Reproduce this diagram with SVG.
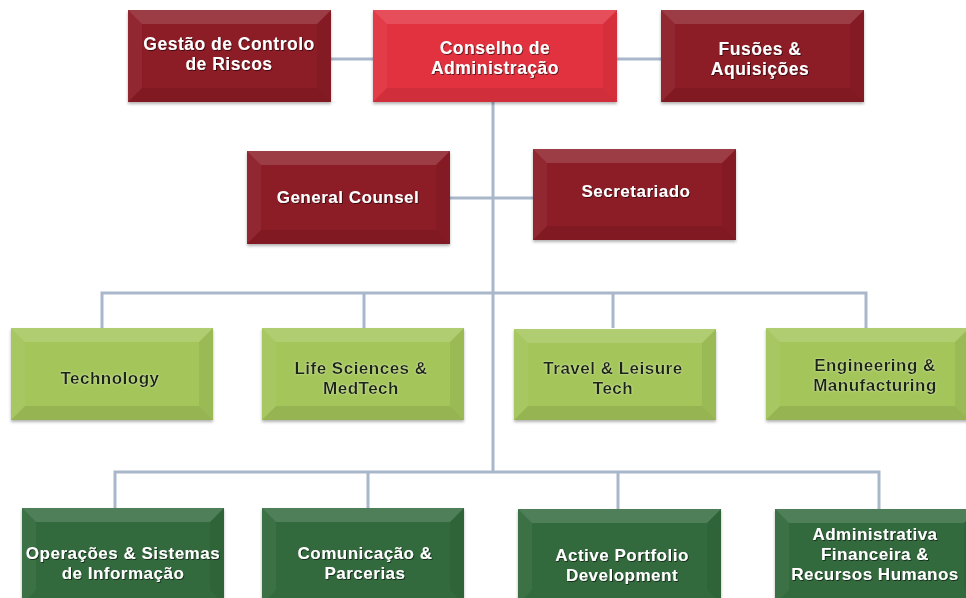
<svg xmlns="http://www.w3.org/2000/svg" width="966" height="598" viewBox="0 0 966 598">
<defs>
<filter id="sh" x="-10%" y="-10%" width="120%" height="130%">
<feDropShadow dx="0" dy="2" stdDeviation="1.8" flood-color="#000" flood-opacity="0.3"/>
</filter>
<filter id="ts" x="-10%" y="-30%" width="120%" height="160%">
<feDropShadow dx="0.8" dy="0.8" stdDeviation="0.6" flood-color="#000" flood-opacity="0.7"/>
</filter>
<filter id="tg" x="-10%" y="-30%" width="120%" height="160%">
<feDropShadow dx="0" dy="0" stdDeviation="0.8" flood-color="#eaf5c8" flood-opacity="0.8"/>
</filter>
</defs>
<style>
.dr{fill:#8c1d27}
.rr{fill:#e2323f}
.lg{fill:#a3c55a}
.dg{fill:#336a3c}
.box{filter:url(#sh)}
.bt{fill:#fff;fill-opacity:0.14}
.bl{fill:#fff;fill-opacity:0.05}
.br{fill:#000;fill-opacity:0.05}
.bb{fill:#000;fill-opacity:0.08}
text{font-family:"Liberation Sans",Arial,sans-serif;font-weight:bold;text-anchor:middle;font-size:17px;letter-spacing:0.5px}
.w{fill:#fff;filter:url(#ts)}
.k{fill:#1e2614;filter:url(#tg)}
.top{font-size:17.5px}
.con{fill:none;stroke:#a9b7ca;stroke-width:3}
</style>
<rect width="966" height="598" fill="#fff"/>
<g id="connectors" class="con">
<line x1="331" y1="59" x2="373" y2="59"/>
<line x1="617" y1="59" x2="661" y2="59"/>
<line x1="493" y1="102" x2="493" y2="472"/>
<line x1="450" y1="198" x2="533" y2="198"/>
<polyline points="102,328 102,293 866,293 866,328"/>
<line x1="364" y1="293" x2="364" y2="328"/>
<line x1="613" y1="293" x2="613" y2="328"/>
<polyline points="115,508 115,472 879,472 879,509"/>
<line x1="368" y1="472" x2="368" y2="508"/>
<line x1="618" y1="472" x2="618" y2="509"/>
</g>
<g id="n-gestao">
<rect class="dr box" x="128" y="10" width="203" height="92"/>
<polygon class="bt" points="128,10 331,10 317,24 142,24"/>
<polygon class="bl" points="128,10 142,24 142,88 128,102"/>
<polygon class="br" points="331,10 331,102 317,88 317,24"/>
<polygon class="bb" points="128,102 142,88 317,88 331,102"/>
<text class="w top" x="229" y="50">Gestão de Controlo</text>
<text class="w top" x="229" y="70">de Riscos</text>
</g>
<g id="n-conselho">
<rect class="rr box" x="373" y="10" width="244" height="92"/>
<polygon class="bt" points="373,10 617,10 603,24 387,24"/>
<polygon class="bl" points="373,10 387,24 387,88 373,102"/>
<polygon class="br" points="617,10 617,102 603,88 603,24"/>
<polygon class="bb" points="373,102 387,88 603,88 617,102"/>
<text class="w top" x="495" y="54">Conselho de</text>
<text class="w top" x="495" y="74">Administração</text>
</g>
<g id="n-fusoes">
<rect class="dr box" x="661" y="10" width="203" height="92"/>
<polygon class="bt" points="661,10 864,10 850,24 675,24"/>
<polygon class="bl" points="661,10 675,24 675,88 661,102"/>
<polygon class="br" points="864,10 864,102 850,88 850,24"/>
<polygon class="bb" points="661,102 675,88 850,88 864,102"/>
<text class="w top" x="760" y="55">Fusões &amp;</text>
<text class="w top" x="760" y="75">Aquisições</text>
</g>
<g id="n-counsel">
<rect class="dr box" x="247" y="151" width="203" height="93"/>
<polygon class="bt" points="247,151 450,151 436,165 261,165"/>
<polygon class="bl" points="247,151 261,165 261,230 247,244"/>
<polygon class="br" points="450,151 450,244 436,230 436,165"/>
<polygon class="bb" points="247,244 261,230 436,230 450,244"/>
<text class="w" x="348" y="203">General Counsel</text>
</g>
<g id="n-secretariado">
<rect class="dr box" x="533" y="149" width="203" height="91"/>
<polygon class="bt" points="533,149 736,149 722,163 547,163"/>
<polygon class="bl" points="533,149 547,163 547,226 533,240"/>
<polygon class="br" points="736,149 736,240 722,226 722,163"/>
<polygon class="bb" points="533,240 547,226 722,226 736,240"/>
<text class="w" x="636" y="197">Secretariado</text>
</g>
<g id="n-technology">
<rect class="lg box" x="11" y="328" width="202" height="92"/>
<polygon class="bt" points="11,328 213,328 199,342 25,342"/>
<polygon class="bl" points="11,328 25,342 25,406 11,420"/>
<polygon class="br" points="213,328 213,420 199,406 199,342"/>
<polygon class="bb" points="11,420 25,406 199,406 213,420"/>
<text class="k" x="110" y="384">Technology</text>
</g>
<g id="n-life">
<rect class="lg box" x="262" y="328" width="202" height="92"/>
<polygon class="bt" points="262,328 464,328 450,342 276,342"/>
<polygon class="bl" points="262,328 276,342 276,406 262,420"/>
<polygon class="br" points="464,328 464,420 450,406 450,342"/>
<polygon class="bb" points="262,420 276,406 450,406 464,420"/>
<text class="k" x="361" y="374">Life Sciences &amp;</text>
<text class="k" x="361" y="394">MedTech</text>
</g>
<g id="n-travel">
<rect class="lg box" x="514" y="329" width="202" height="91"/>
<polygon class="bt" points="514,329 716,329 702,343 528,343"/>
<polygon class="bl" points="514,329 528,343 528,406 514,420"/>
<polygon class="br" points="716,329 716,420 702,406 702,343"/>
<polygon class="bb" points="514,420 528,406 702,406 716,420"/>
<text class="k" x="613" y="374">Travel &amp; Leisure</text>
<text class="k" x="613" y="394">Tech</text>
</g>
<g id="n-engineering">
<rect class="lg box" x="766" y="328" width="203" height="92"/>
<polygon class="bt" points="766,328 969,328 955,342 780,342"/>
<polygon class="bl" points="766,328 780,342 780,406 766,420"/>
<polygon class="br" points="969,328 969,420 955,406 955,342"/>
<polygon class="bb" points="766,420 780,406 955,406 969,420"/>
<text class="k" x="875" y="371">Engineering &amp;</text>
<text class="k" x="875" y="391">Manufacturing</text>
</g>
<g id="n-operacoes">
<rect class="dg box" x="22" y="508" width="202" height="96"/>
<polygon class="bt" points="22,508 224,508 210,522 36,522"/>
<polygon class="bl" points="22,508 36,522 36,590 22,604"/>
<polygon class="br" points="224,508 224,604 210,590 210,522"/>
<text class="w" x="123" y="559">Operações &amp; Sistemas</text>
<text class="w" x="123" y="579">de Informação</text>
</g>
<g id="n-comunicacao">
<rect class="dg box" x="262" y="508" width="202" height="96"/>
<polygon class="bt" points="262,508 464,508 450,522 276,522"/>
<polygon class="bl" points="262,508 276,522 276,590 262,604"/>
<polygon class="br" points="464,508 464,604 450,590 450,522"/>
<text class="w" x="365" y="559">Comunicação &amp;</text>
<text class="w" x="365" y="579">Parcerias</text>
</g>
<g id="n-active">
<rect class="dg box" x="518" y="509" width="203" height="95"/>
<polygon class="bt" points="518,509 721,509 707,523 532,523"/>
<polygon class="bl" points="518,509 532,523 532,590 518,604"/>
<polygon class="br" points="721,509 721,604 707,590 707,523"/>
<text class="w" x="622" y="561">Active Portfolio</text>
<text class="w" x="622" y="581">Development</text>
</g>
<g id="n-administrativa">
<rect class="dg box" x="775" y="509" width="203" height="95"/>
<polygon class="bt" points="775,509 978,509 964,523 789,523"/>
<polygon class="bl" points="775,509 789,523 789,590 775,604"/>
<polygon class="br" points="978,509 978,604 964,590 964,523"/>
<text class="w" x="875" y="540">Administrativa</text>
<text class="w" x="875" y="560">Financeira &amp;</text>
<text class="w" x="875" y="580">Recursos Humanos</text>
</g>
</svg>
